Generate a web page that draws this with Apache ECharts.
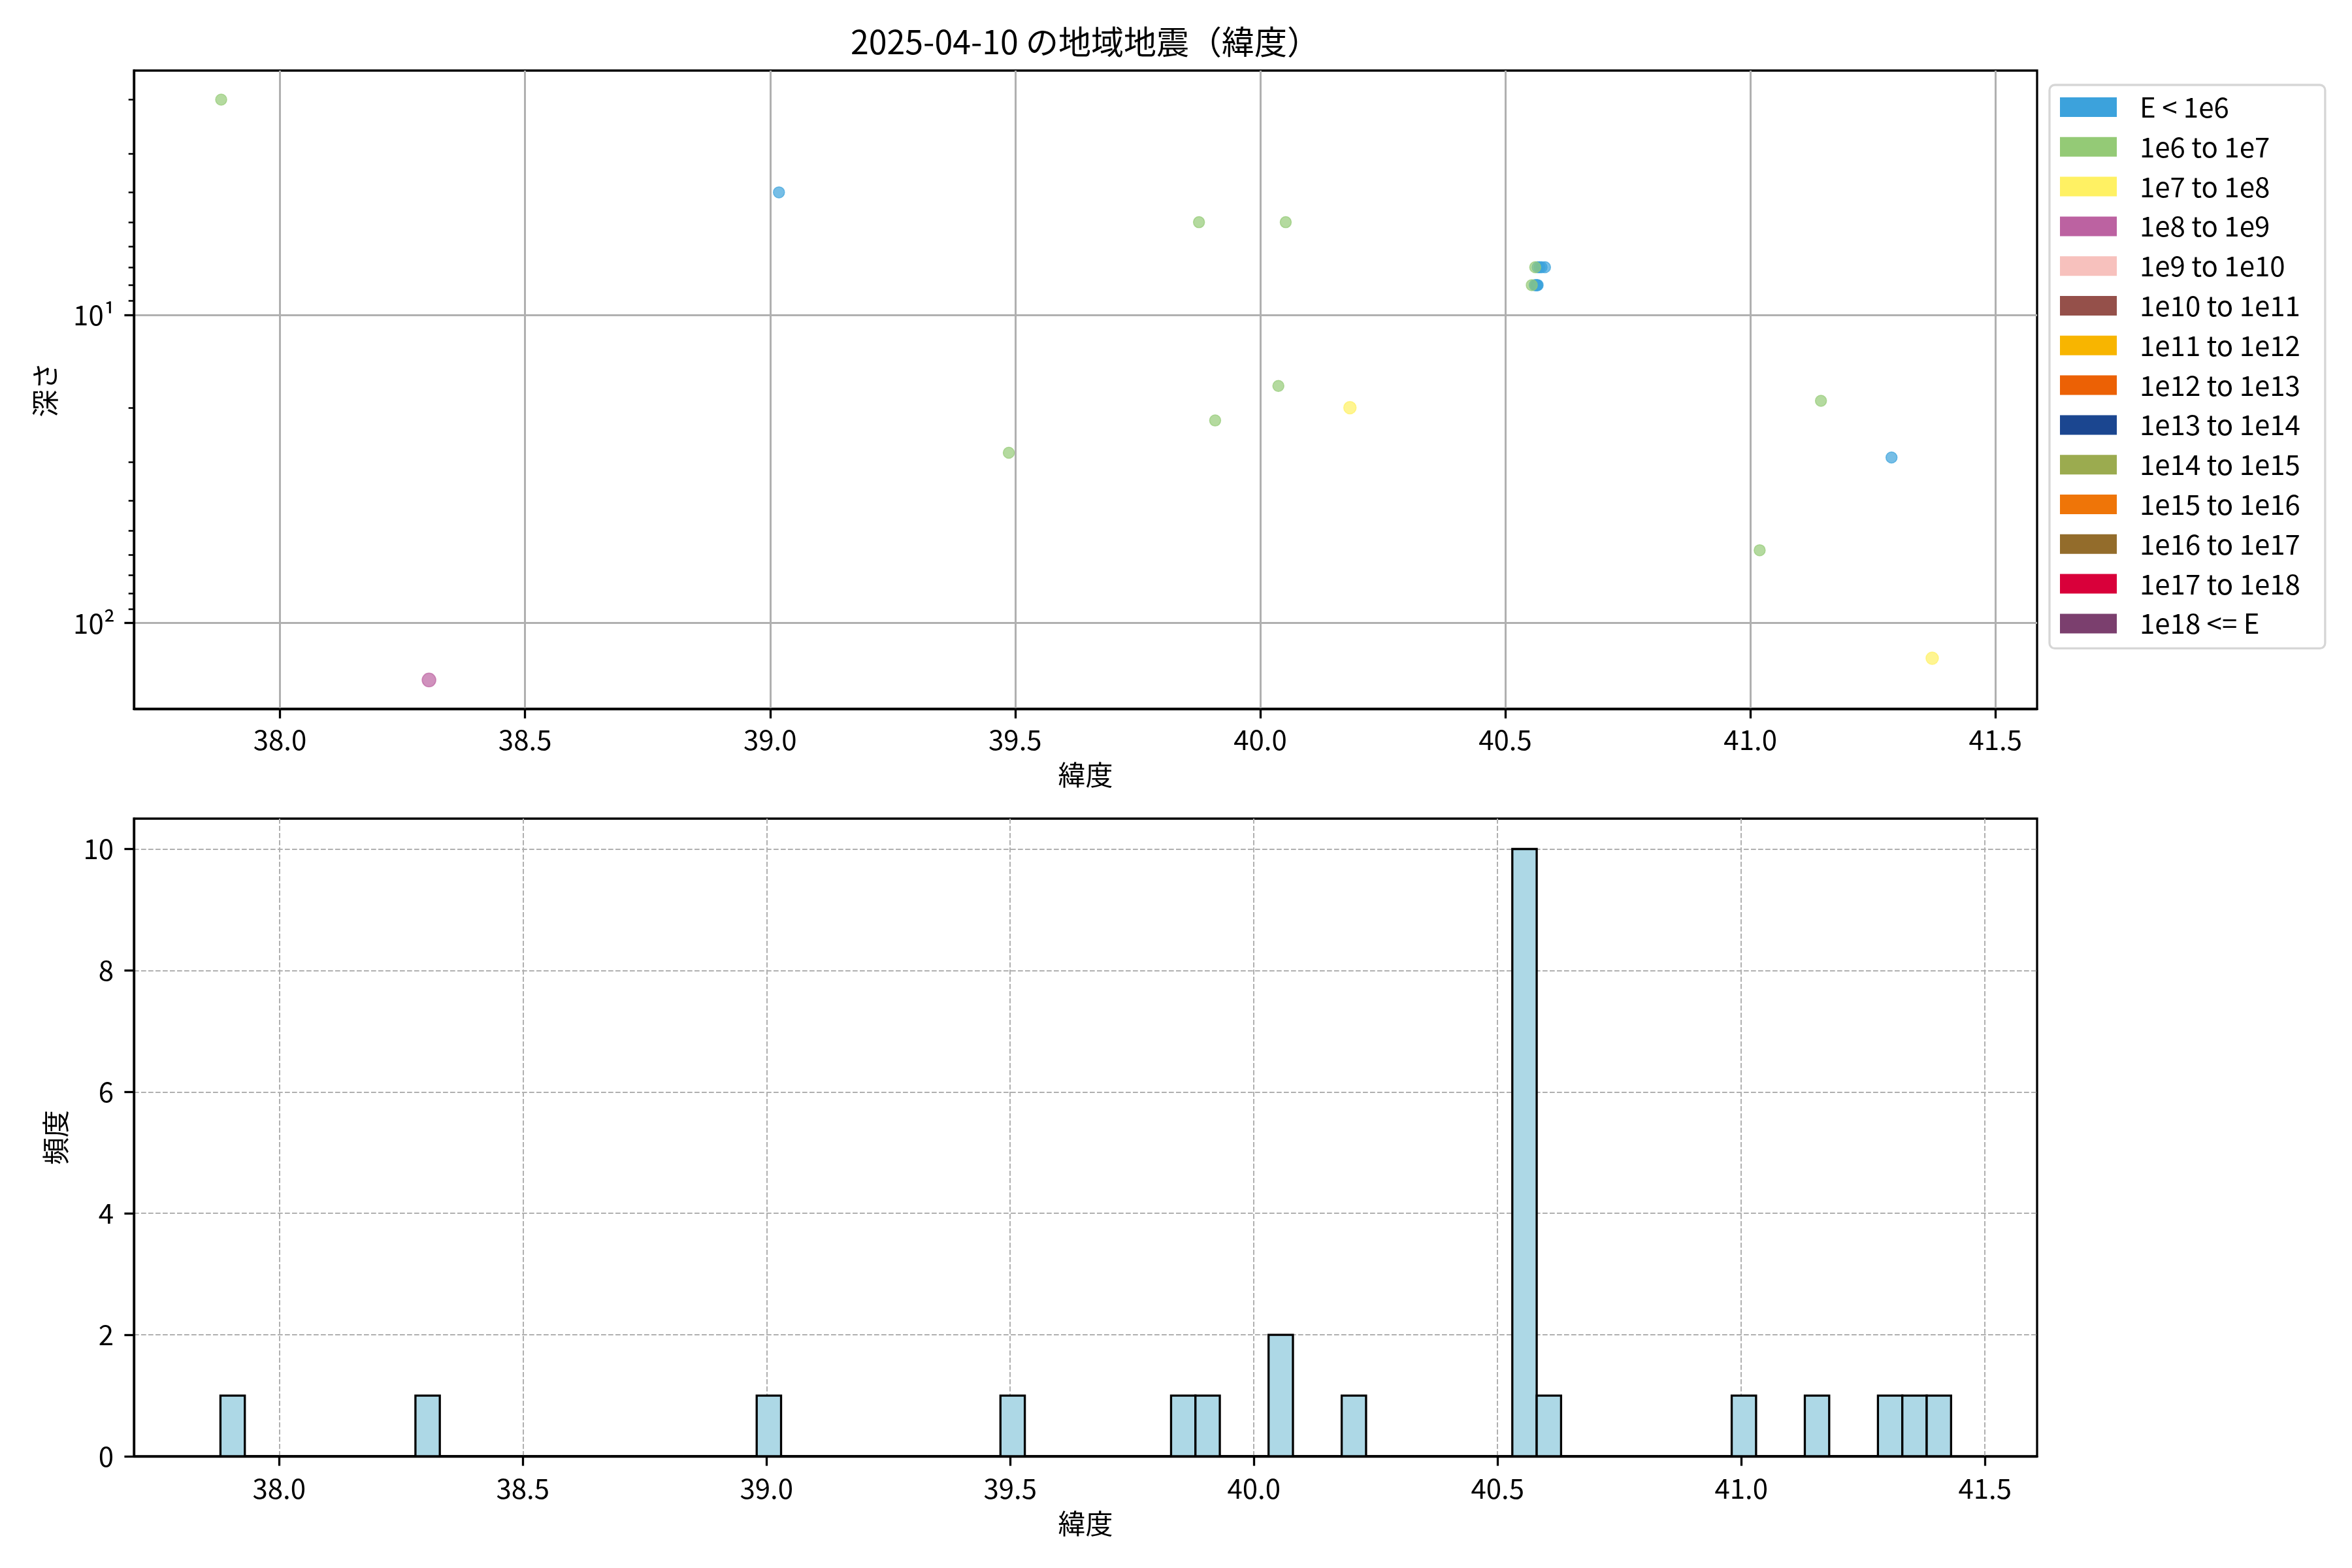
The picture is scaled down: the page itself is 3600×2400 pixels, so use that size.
<!DOCTYPE html>
<html>
<head>
<meta charset="utf-8">
<script src="https://cdn.jsdelivr.net/npm/echarts@6/dist/echarts.min.js"></script>
<style>html,body{margin:0;padding:0;background:#fff}#c{width:3600px;height:2400px}</style>
</head>
<body>
<div id="c"></div>
<script>
// ---- data ----
const titleText = '2025-04-10 の地域地震（緯度）';
const energyClasses = ['E < 1e6','1e6 to 1e7','1e7 to 1e8','1e8 to 1e9','1e9 to 1e10','1e10 to 1e11','1e11 to 1e12','1e12 to 1e13','1e13 to 1e14','1e14 to 1e15','1e15 to 1e16','1e16 to 1e17','1e17 to 1e18','1e18 <= E'];
const classColors = ['#3ca2dc','#94ca76','#fff163','#bc62a1','#f7c1bd','#95504a','#f8b500','#ec6105','#1b4690','#9bab4f','#ef7508','#936c2b','#d9003a','#7b3f6e'];

const quakeLat   = [37.880, 39.018, 39.875, 40.052, 40.037, 40.183, 39.908, 41.144, 41.288, 39.487, 41.019, 38.304, 41.371,
                    40.561, 40.566, 40.570, 40.574, 40.581,
                    40.554, 40.560, 40.562, 40.564, 40.565, 40.566];
const quakeDepth = [2.0, 4.0, 5.0, 5.0, 17, 20, 22, 19, 29, 28, 58, 153, 130,
                    7, 7, 7, 7, 7,
                    8, 8, 8, 8, 8, 8];
const quakeClass = [1, 0, 1, 1, 1, 2, 1, 1, 0, 1, 1, 3, 2,
                    1, 0, 0, 0, 0,
                    1, 0, 0, 0, 0, 0];

const histStart = 37.8795;
const histEnd = 41.4305;
const histCounts = [1,0,0,0,0,0,0,0,1,0, 0,0,0,0,0,0,0,0,0,0, 0,0,1,0,0,0,0,0,0,0,
                    0,0,1,0,0,0,0,0,0,1, 1,0,0,2,0,0,1,0,0,0, 0,0,0,10,1,0,0,0,0,0,
                    0,0,1,0,0,1,0,0,1,1, 1];

const latTicks = [38.0, 38.5, 39.0, 39.5, 40.0, 40.5, 41.0, 41.5];
const depthTicks = [10, 100];
const depthMinorTicks = [2,3,4,5,6,7,8,9,20,30,40,50,60,70,80,90];
const countTicks = [0, 2, 4, 6, 8, 10];

// ---- chart ----
const FONT = 'Noto Sans CJK JP';
const chart = echarts.init(document.getElementById('c'), null, {renderer: 'canvas'});

const binW = (histEnd - histStart) / histCounts.length;
const histData = histCounts.map((c, i) => [histStart + i * binW, histStart + (i + 1) * binW, c]);

const classSize = [17, 17, 19, 21, 21, 21, 21, 21, 21, 21, 21, 21, 21, 21];
const scatterSeries = energyClasses.map((name, k) => {
  const data = [];
  quakeLat.forEach((lat, i) => { if (quakeClass[i] === k) data.push([lat, quakeDepth[i]]); });
  return {
    name, type: 'scatter', xAxisIndex: 0, yAxisIndex: 0,
    symbol: 'circle', symbolSize: classSize[k],
    itemStyle: {color: classColors[k], opacity: 0.7, borderColor: classColors[k], borderWidth: 1.5},
    emphasis: {disabled: true},
    data
  };
});

const supers = {1: '\u00b9', 2: '\u00b2', 3: '\u00b3'};
const tickFont = {fontFamily: FONT, fontSize: 42, color: '#000'};

const option = {
  animation: false,
  backgroundColor: '#fff',
  textStyle: {fontFamily: FONT},
  title: {
    text: titleText, left: 1661, top: 39, textAlign: 'center', padding: 0,
    textStyle: {fontFamily: FONT, fontSize: 50, fontWeight: 'normal', color: '#000', lineHeight: 50}
  },
  legend: {
    orient: 'vertical', left: 3137, top: 130,
    padding: [13, 38, 17, 16],
    itemWidth: 87, itemHeight: 30, itemGap: 18.8,
    icon: 'rect',
    itemStyle: {opacity: 1, borderWidth: 0},
    textStyle: {fontFamily: FONT, fontSize: 42, color: '#000', lineHeight: 42, padding: [0, 0, 0, 30]},
    borderColor: '#d6d6d6', borderWidth: 3.3, borderRadius: 8,
    backgroundColor: '#fff',
    selectedMode: false,
    data: energyClasses
  },
  grid: [
    {left: 205, top: 108, width: 2913, height: 977, show: true, borderColor: '#000', borderWidth: 3.3, backgroundColor: 'transparent'},
    {left: 205, top: 1253, width: 2913, height: 976, show: true, borderColor: '#000', borderWidth: 3.3, backgroundColor: 'transparent'}
  ],
  xAxis: [
    {
      type: 'value', gridIndex: 0, min: 37.702, max: 41.585,
      name: '緯度', nameLocation: 'middle', nameGap: 80,
      nameTextStyle: {fontFamily: FONT, fontSize: 42, color: '#000'},
      axisLine: {show: true, onZero: false, lineStyle: {color: '#000', width: 3.3}},
      axisTick: {show: true, customValues: latTicks, length: 14.6, lineStyle: {color: '#000', width: 3.3}},
      axisLabel: Object.assign({customValues: latTicks, margin: 26, formatter: v => Number(v).toFixed(1)}, tickFont),
      splitLine: {show: true, lineStyle: {color: '#b0b0b0', width: 3}}
    },
    {
      type: 'value', gridIndex: 1, min: 37.702, max: 41.607,
      name: '緯度', nameLocation: 'middle', nameGap: 82,
      nameTextStyle: {fontFamily: FONT, fontSize: 42, color: '#000'},
      axisLine: {show: true, onZero: false, lineStyle: {color: '#000', width: 3.3}},
      axisTick: {show: true, customValues: latTicks, length: 14.6, lineStyle: {color: '#000', width: 3.3}},
      axisLabel: Object.assign({customValues: latTicks, margin: 28, formatter: v => Number(v).toFixed(1)}, tickFont),
      splitLine: {show: true, lineStyle: {color: '#b0b0b0', width: 2, type: [7.7, 3.3]}}
    }
  ],
  yAxis: [
    {
      type: 'log', logBase: 10, gridIndex: 0, inverse: true, min: 1.61, max: 189.8, position: 'left',
      name: '深さ', nameLocation: 'middle', nameGap: 115, nameRotate: 90,
      nameTextStyle: {fontFamily: FONT, fontSize: 42, color: '#000'},
      axisLine: {show: true, onZero: false, lineStyle: {color: '#000', width: 3.3}},
      axisTick: {show: true, customValues: depthTicks, length: 14.6, lineStyle: {color: '#000', width: 3.3}},
      axisLabel: Object.assign({customValues: depthTicks, margin: 29,
        formatter: v => '10' + supers[Math.round(Math.log10(v))]}, tickFont),
      splitLine: {show: true, lineStyle: {color: '#b0b0b0', width: 3}},
      minorTick: {show: false}
    },
    {
      type: 'log', logBase: 10, gridIndex: 0, inverse: true, min: 1.61, max: 189.8, position: 'left', offset: 0,
      axisLine: {show: false},
      axisTick: {show: true, customValues: depthMinorTicks, length: 8.3, lineStyle: {color: '#000', width: 2.5}},
      axisLabel: {show: false},
      splitLine: {show: false}
    },
    {
      type: 'value', gridIndex: 1, min: 0, max: 10.5, position: 'left',
      name: '頻度', nameLocation: 'middle', nameGap: 99, nameRotate: 90,
      nameTextStyle: {fontFamily: FONT, fontSize: 42, color: '#000'},
      axisLine: {show: true, onZero: false, lineStyle: {color: '#000', width: 3.3}},
      axisTick: {show: true, customValues: countTicks, length: 14.6, lineStyle: {color: '#000', width: 3.3}},
      axisLabel: Object.assign({customValues: countTicks, margin: 31}, tickFont),
      splitLine: {show: true, showMinLine: false, lineStyle: {color: '#b0b0b0', width: 2, type: [7.7, 3.3]}}
    }
  ],
  series: scatterSeries.concat([{
    name: 'hist', type: 'custom', xAxisIndex: 1, yAxisIndex: 2,
    encode: {x: [0, 1], y: 2},
    renderItem: (params, api) => {
      const p0 = api.coord([api.value(0), api.value(2)]);
      const p1 = api.coord([api.value(1), 0]);
      return {
        type: 'rect',
        shape: {x: p0[0], y: p0[1], width: p1[0] - p0[0], height: p1[1] - p0[1]},
        style: {fill: '#add8e6', stroke: '#000', lineWidth: 3.3}
      };
    },
    data: histData
  }])
};
chart.setOption(option);
</script>
</body>
</html>
